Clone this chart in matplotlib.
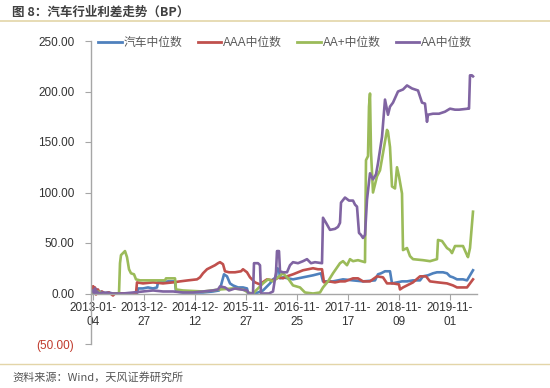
import matplotlib
matplotlib.use("Agg")
import matplotlib.pyplot as plt
from matplotlib.lines import Line2D

plt.rcParams['font.family'] = ['Liberation Sans', 'Noto Sans CJK SC', 'DejaVu Sans']

# ---- data (week index since 2013-01-04, value in BP) ----
series_names = ['汽车中位数', 'AAA中位数', 'AA+中位数', 'AA中位数']

auto_weeks = [0, 1, 2, 3, 4, 6, 8, 10, 15, 20, 30, 40, 44, 45, 50, 55, 60, 64, 65, 70, 75, 82, 83, 90,
              100, 110, 120, 126, 128, 131, 134, 137, 140, 145, 150, 154, 155, 160, 165, 170, 177, 180,
              183, 184, 186, 187, 190, 200, 210, 220, 228, 230, 240, 250, 260, 270, 282, 285, 288, 290,
              292, 297, 299, 304, 309, 314, 320, 327, 330, 335, 340, 344, 350, 354, 357, 360, 364, 370,
              374, 377, 380]
auto_vals = [6, 0, 5, 1, 4, 0, 2, 0, 1, 0, 0, 0, 0, 5, 5, 6, 5, 6, 11, 11, 12, 12, 2, 1,
             1, 1, 2, 3, 8, 19, 17, 10, 8, 6, 6, 5, 0, 0, 1, 3, 10, 14,
             16, 25, 24, 15, 16, 14, 16, 18, 20, 12, 12, 14, 13, 12, 13, 19, 20, 21,
             22, 22, 10, 11, 12, 12, 13, 13, 17, 18, 20, 21, 21, 20, 17, 16, 14, 14,
             13, 18, 23]

aaa_weeks = [0, 1, 2, 3, 5, 7, 9, 12, 16, 20, 22, 43, 44, 50, 60, 70, 80, 87, 95, 104, 107, 110, 114,
             118, 122, 125, 127, 130, 132, 136, 142, 148, 150, 154, 157, 162, 167, 171, 174, 180, 186,
             190, 194, 200, 205, 210, 215, 220, 225, 229, 231, 236, 242, 247, 252, 260, 265, 270, 277,
             284, 290, 294, 300, 306, 307, 310, 314, 320, 327, 333, 337, 345, 354, 360, 364, 374, 377,
             380]
aaa_vals = [7, 0, 6, -1, 4, 0, 2, 0, 1, -2, 0, 0, 11, 10, 11, 10, 11, 12, 13, 14, 16, 20, 24,
            26, 28, 30, 31, 29, 22, 21, 21, 22, 24, 21, 16, 11, 9, 12, 14, 13, 16,
            15, 17, 19, 21, 23, 24, 25, 24, 24, 11, 12, 11, 12, 12, 15, 15, 12, 12,
            17, 16, 10, 10, 9, 4, 6, 8, 11, 17, 17, 12, 11, 10, 8, 6, 6, 10,
            14]

aap_weeks = [0, 5, 10, 26, 27, 28, 30, 32, 34, 36, 38, 41, 43, 47, 60, 72, 73, 82, 83, 90, 110, 127,
             140, 150, 155, 160, 165, 170, 175, 180, 185, 190, 195, 200, 207, 212, 220, 227, 230, 235,
             240, 247, 250, 254, 257, 260, 265, 272, 273, 275, 276, 277, 278, 280, 284, 287, 290, 294,
             295, 297, 299, 302, 304, 306, 309, 310, 314, 317, 320, 330, 337, 344, 345, 349, 354, 357,
             359, 362, 370, 374, 375, 377, 380]
aap_vals = [0, 2, 0, 0, 30, 38, 40, 42, 36, 24, 20, 19, 14, 13, 13, 13, 15, 15, 4, 3, 2, 4,
            5, 4, 1, 0, 5, 10, 14, 12, 16, 20, 15, 8, 6, 1, 0, 1, 6, 12,
            20, 30, 32, 28, 34, 32, 33, 31, 132, 136, 185, 198, 140, 100, 116, 122, 139, 162,
            160, 145, 106, 104, 125, 116, 99, 43, 45, 37, 34, 33, 32, 34, 53, 52, 45, 43,
            40, 47, 47, 38, 36, 45, 81]

aa_weeks = [0, 1, 2, 3, 4, 6, 10, 20, 30, 40, 50, 60, 70, 80, 90, 100, 110, 120, 125, 127, 132, 136,
            142, 148, 154, 156, 160, 161, 165, 167, 168, 172, 176, 180, 183, 184, 186, 187, 190, 194,
            197, 200, 205, 210, 214, 218, 222, 229, 230, 233, 237, 242, 245, 247, 248, 252, 256, 260,
            262, 264, 266, 268, 270, 272, 274, 277, 280, 283, 285, 289, 292, 295, 297, 300, 305, 310,
            314, 319, 325, 329, 332, 334, 335, 340, 346, 352, 357, 362, 366, 375, 376, 377, 379, 380]
aa_vals = [3, 0, 5, 0, 2, 0, 1, 0, 0, 1, 2, 3, 2, 2, 1, 1, 2, 3, 4, 7, 6, 3,
           5, 4, 3, 0, 0, 30, 30, 28, 0, 0, 0, 2, 21, 42, 42, 22, 21, 21,
           28, 31, 30, 32, 34, 30, 31, 30, 75, 70, 63, 64, 66, 70, 90, 95, 92, 92,
           88, 86, 60, 58, 55, 58, 93, 119, 113, 118, 129, 155, 192, 177, 185, 189, 200, 202,
           206, 203, 201, 189, 188, 170, 177, 178, 178, 180, 183, 182, 182, 183, 183, 216, 216, 215]

tick_weeks = [0, 51, 102, 153, 204, 255, 306, 357]
tick_labels = ['2013-01-\n04', '2013-12-\n27', '2014-12-\n12', '2015-11-\n27',
               '2016-11-\n25', '2017-11-\n17', '2018-11-\n09', '2019-11-\n01']
y_ticks = [-50, 0, 50, 100, 150, 200, 250]
y_labels = ['(50.00)', '0.00', '50.00', '100.00', '150.00', '200.00', '250.00']

colors = ['#4F81BD', '#C0504D', '#9BBB59', '#8064A2']

# ---- figure ----
fig = plt.figure(figsize=(5.5, 3.88), dpi=100)
ax = fig.add_axes([91/550, 1-344/388, (477-91)/550, (344-41)/388])

data = [(auto_weeks, auto_vals), (aaa_weeks, aaa_vals), (aap_weeks, aap_vals), (aa_weeks, aa_vals)]
for (wk, vals), c, name in zip(data, colors, series_names):
    ax.plot(wk, vals, color=c, lw=1.9, label=name, solid_joinstyle='round')

ax.set_xlim(-2, 384)
ax.set_ylim(-50, 250)
ax.set_yticks(y_ticks)
ax.set_yticklabels(y_labels)
ax.set_xticks(tick_weeks)
ax.set_xticklabels(tick_labels)

for s in ['top', 'right']:
    ax.spines[s].set_visible(False)
ax.spines['bottom'].set_position(('data', 0))
ax.spines['bottom'].set_color('#A6A6A6')
ax.spines['left'].set_color('#A6A6A6')
ax.spines['bottom'].set_linewidth(1)
ax.spines['left'].set_linewidth(1)
ax.tick_params(axis='y', direction='out', length=4, color='#A6A6A6', labelsize=8.5,
               labelcolor='#333333', pad=8)
ax.tick_params(axis='x', direction='out', length=4, color='#A6A6A6', labelsize=8.5,
               labelcolor='#333333', pad=2)
for lab in ax.get_yticklabels():
    if lab.get_text().startswith('('):
        lab.set_color('#C0392B')
for lab in ax.get_xticklabels():
    lab.set_linespacing(1.25)

handles = [Line2D([0], [0], color=c, lw=2) for c in colors]
leg = ax.legend(handles, series_names, loc='upper left', bbox_to_anchor=(0.0, 1.035), ncol=4,
                frameon=False, fontsize=8.5, handlelength=2.0, handletextpad=0.15,
                columnspacing=1.3, borderaxespad=0.2)
for t in leg.get_texts():
    t.set_color('#595959')
    t.set_family(['Liberation Sans', 'Noto Sans CJK SC'])

# header / footer
fig.text(12/550, 1-12/388, '图 8：汽车行业利差走势（BP）', fontsize=9, fontweight='bold',
         color='#404040', va='center', ha='left', family=['Noto Sans CJK SC', 'DejaVu Sans'])
fig.add_artist(Line2D([0, 1], [1-21/388, 1-21/388], color='#E3D5A8', lw=1.2))
fig.add_artist(Line2D([0, 1], [1-364/388, 1-364/388], color='#E3D5A8', lw=1.0))
fig.text(12/550, 1-377/388, '资料来源：Wind，天风证券研究所', fontsize=8, color='#555555',
         va='center', ha='left', family=['Noto Sans CJK SC', 'DejaVu Sans'])

fig.savefig('out.png', dpi=100)
